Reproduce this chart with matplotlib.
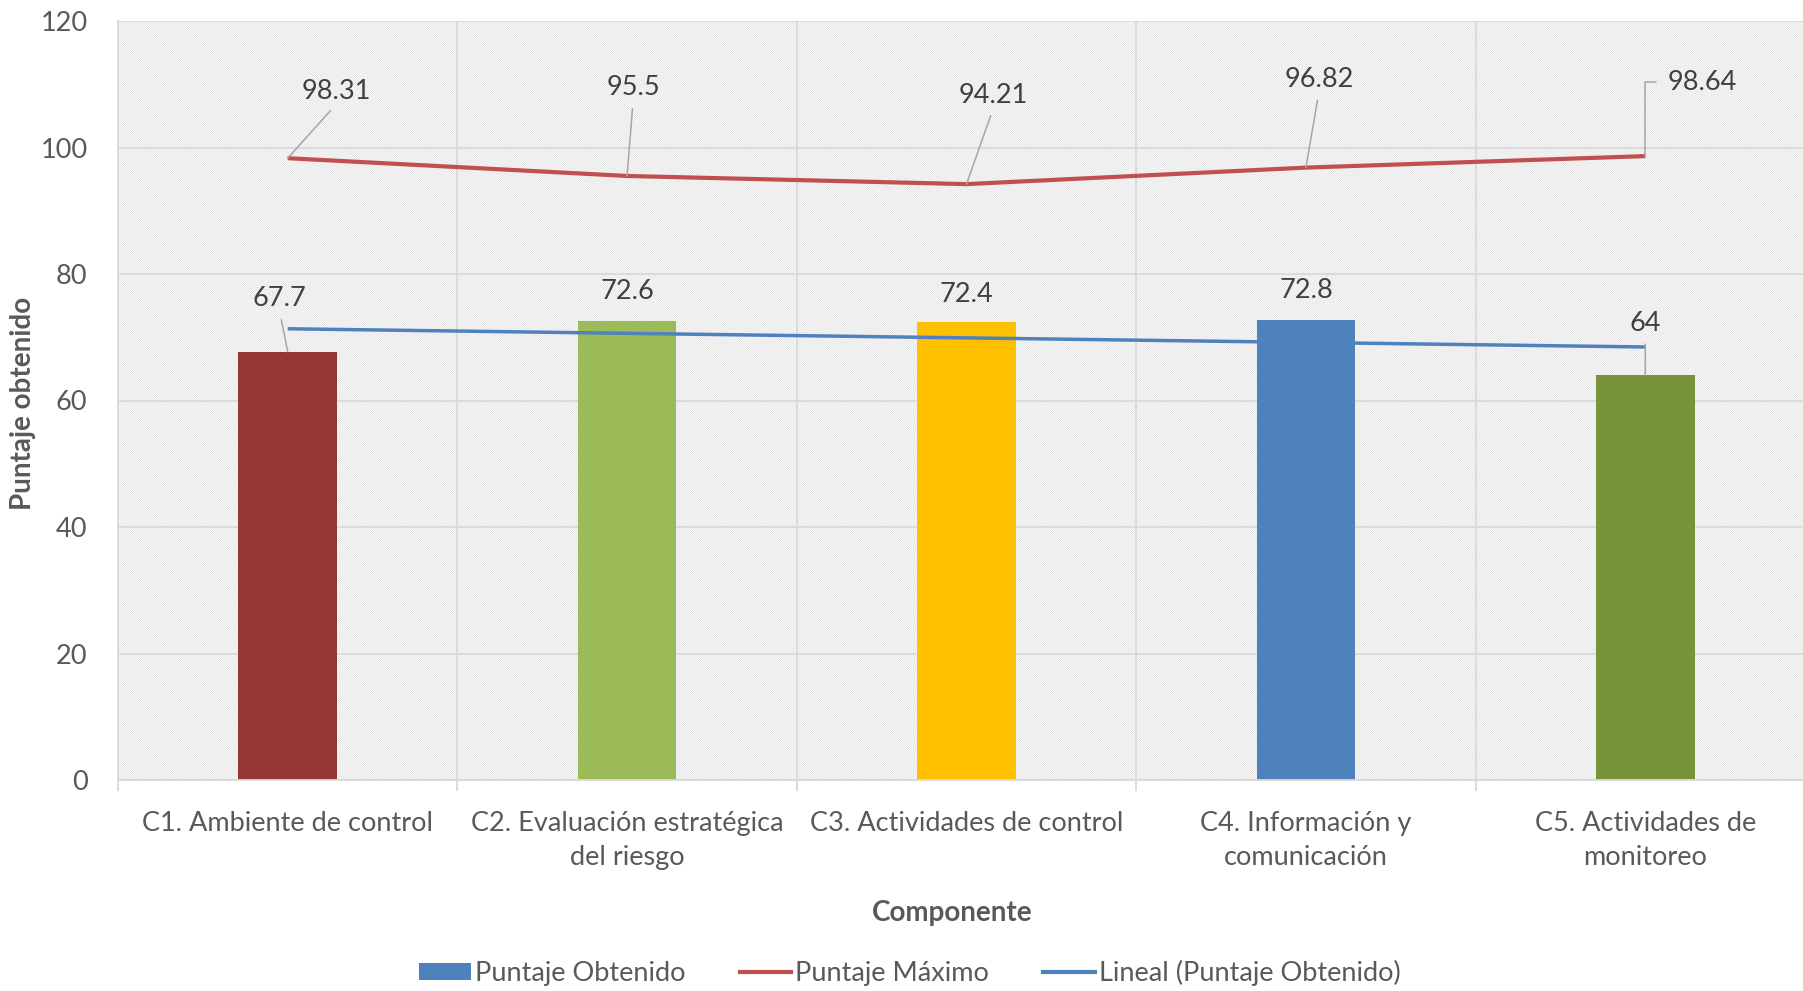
import numpy as np
import matplotlib
matplotlib.use("Agg")
import matplotlib.pyplot as plt
from matplotlib.patches import Rectangle, Patch
from matplotlib.lines import Line2D

categories = ["C1. Ambiente de control", "C2. Evaluación estratégica\ndel riesgo",
              "C3. Actividades de control", "C4. Información y\ncomunicación",
              "C5. Actividades de\nmonitoreo"]
obtenido = [67.7, 72.6, 72.4, 72.8, 64]
maximo = [98.31, 95.5, 94.21, 96.82, 98.64]
bar_colors = ["#943634", "#9BBB59", "#FFC000", "#4F81BD", "#77933C"]
yticks = [0, 20, 40, 60, 80, 100, 120]

plt.rcParams['font.family'] = ['Lato', 'DejaVu Sans']
plt.rcParams['hatch.color'] = '#D3D3D3'
plt.rcParams['hatch.linewidth'] = 0.4
TXT = '#595959'
FS = 19.5

W, H = 1803, 991
fig = plt.figure(figsize=(W / 100, H / 100), dpi=100)
left, right, top, bottom = 118, 1815, 21, 780
ax = fig.add_axes([left / W, 1 - bottom / H, (right - left) / W, (bottom - top) / H])

x = np.arange(len(categories))
ax.set_xlim(-0.5, len(categories) - 0.5)
ax.set_ylim(0, 120)

# hatched background
bg = Rectangle((0, 0), 1, 1, transform=ax.transAxes, facecolor='white',
               edgecolor='#D3D3D3', lw=0, hatch='\\' * 15, zorder=0)
ax.add_patch(bg)
ax.patch.set_visible(False)

ax.set_axisbelow(True)
ax.yaxis.grid(True, color='#D9D9D9', lw=1.3, zorder=0.5)
ax.set_xticks(np.arange(-0.5, len(categories) - 0.4, 1), minor=True)
ax.xaxis.grid(True, which='minor', color='#D9D9D9', lw=1.3, zorder=0.5)

ax.bar(x, obtenido, width=0.29, color=bar_colors, zorder=2)
ax.plot(x, maximo, color='#C0504D', lw=3.0, zorder=3, solid_capstyle='butt')
coef = np.polyfit(x, obtenido, 1)
ax.plot(x, np.polyval(coef, x), color='#4F81BD', lw=2.5, zorder=3, solid_capstyle='butt')

for s in ['top', 'right']:
    ax.spines[s].set_visible(False)
for s in ['left', 'bottom']:
    ax.spines[s].set_color('#D9D9D9')
    ax.spines[s].set_linewidth(1.3)

ax.set_yticks(yticks)
ax.set_xticks(x)
ax.set_xticklabels(categories, fontsize=FS, color=TXT, linespacing=1.45)
ax.tick_params(axis='y', labelsize=FS, labelcolor=TXT, length=0, pad=22)
ax.tick_params(axis='x', which='major', length=0, pad=22)
ax.tick_params(axis='x', which='minor', length=8, color='#D9D9D9', width=1.3)
ax.tick_params(axis='y', which='both', left=False)

lead = dict(arrowstyle='-', color='#A6A6A6', lw=1.1, shrinkA=4, shrinkB=0, relpos=(0.5, 0))

max_offsets = [(49, 67), (6, 88), (27, 89), (13, 88), (None, None)]
for i, (v, off) in enumerate(zip(maximo, max_offsets)):
    if off[0] is None:
        ax.annotate(f"{v:g}", (x[i], v), xytext=(22, 74), textcoords='offset pixels',
                    ha='left', va='center', fontsize=FS, color='#404040', zorder=5,
                    arrowprops=dict(arrowstyle='-', color='#A6A6A6', lw=1.1, shrinkA=6, shrinkB=0,
                                    relpos=(0, 0.5),
                                    connectionstyle='angle,angleA=180,angleB=90,rad=0'))
    else:
        ax.annotate(f"{v:g}", (x[i], v), xytext=off, textcoords='offset pixels',
                    ha='center', va='center', fontsize=FS, color='#404040', zorder=5,
                    arrowprops=lead)

bar_offsets = [(-8, 53), (0, 29), (0, 28), (0, 29), (0, 52)]
for i, (v, off) in enumerate(zip(obtenido, bar_offsets)):
    props = lead if off[1] > 40 else None
    ax.annotate(f"{v:g}", (x[i], v), xytext=off, textcoords='offset pixels',
                ha='center', va='center', fontsize=FS, color='#404040', zorder=5,
                arrowprops=props)

fig.text(23 / W, 1 - 403 / H, "Puntaje obtenido", rotation=90, ha='center', va='center',
         fontsize=20, fontweight='bold', color=TXT)
fig.text(952 / W, 1 - 913 / H, "Componente", ha='center', va='center',
         fontsize=20, fontweight='bold', color=TXT)

handles = [Patch(facecolor='#4F81BD', edgecolor='none'),
           Line2D([], [], color='#C0504D', lw=3.0),
           Line2D([], [], color='#4F81BD', lw=3.0)]
labels = ["Puntaje Obtenido", "Puntaje Máximo", "Lineal (Puntaje Obtenido)"]
leg = fig.legend(handles, labels, loc='center', bbox_to_anchor=(910 / W, 1 - 973 / H), ncol=3,
                 frameon=False, fontsize=FS, handlelength=1.9, handletextpad=0.15,
                 columnspacing=2.0, handleheight=0.6)
for t in leg.get_texts():
    t.set_color(TXT)

fig.savefig("out.png", dpi=100)
